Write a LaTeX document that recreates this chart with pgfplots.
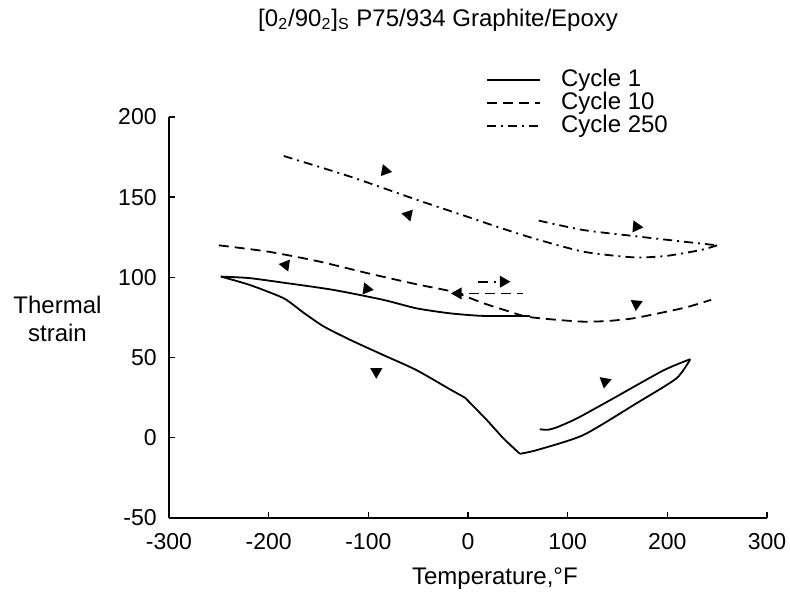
\documentclass[border=0pt,12pt]{standalone}
\usepackage{fontspec}
\setmainfont{Liberation Sans}
\usepackage{pgfplots}
\pgfplotsset{compat=1.18}
\begin{document}
\begin{tikzpicture}
\begin{axis}[
 at={(0,0)}, anchor=south west,
 scale only axis, width=299pt, height=200.5pt,
 xmin=-300, xmax=300, ymin=-50, ymax=200,
 axis lines=left, axis line style={-, line width=0.7pt},
 xtick={-300,-200,...,300}, ytick={-50,0,...,200},
 tick align=inside, major tick length=3pt,
 tick style={line width=0.7pt, black},
 /pgf/number format/assume math mode=true,
 tick label style={font=\fontsize{11.5}{13}\selectfont},
 xticklabel style={yshift=-3.5pt},
 yticklabel style={xshift=-2pt},
 xlabel={Temperature,°F},
 xlabel style={at={(axis description cs:0.545,-0.15)}, anchor=center, font=\fontsize{12}{14}\selectfont},
 ylabel={Thermal\\strain},
 ylabel style={at={(axis description cs:-0.1865,0.496)}, rotate=-90, anchor=center, align=center, font=\fontsize{12}{14}\selectfont},
 title={[0\textsubscript{2}/90\textsubscript{2}]\textsubscript{S} P75/934 Graphite/Epoxy},
 title style={at={(axis description cs:0.45,1.212)}, anchor=center, yshift=0pt, font=\fontsize{12}{14}\selectfont},
 legend style={draw=none, fill=none, at={(axis description cs:0.53,1.125)}, anchor=north west, inner sep=0pt, row sep=-1pt, font=\fontsize{12}{14}\selectfont, nodes={inner sep=1pt}, /tikz/every odd column/.append style={column sep=9pt}},
 legend cell align=left,
 legend image code/.code={\draw[#1] (0pt,0pt) -- (26.5pt,0pt);},
 every axis plot/.append style={line width=0.9pt, black},
]
% Cycle 1 (heating from 72 F)
\addplot[solid, smooth, tension=0.4] coordinates {
(72,5.3) (80,5) (89,6.5) (109,12) (143,23.6) (196,42) (223,49)
};
\addlegendentry{Cycle 1}
% Cycle 10
\addplot[dash pattern=on 5pt off 3pt, smooth, tension=0.4] coordinates {
(-250,120) (-200,116) (-150,110) (-100,102.5) (-50,95.5) (-15,91) (15,84) (40,79) (59,75.5)
(90,73.5) (116,72.4) (140,72.8) (166,74.5) (199,78.6) (220,81.5) (244,86)
};
\addlegendentry{Cycle 10}
% Cycle 250
\addplot[dash pattern=on 4.5pt off 2.5pt on 1pt off 2.5pt, smooth, tension=0.4] coordinates {
(71,135.4) (116,129.5) (166,125.8) (216,122.3) (250,120)
};
\addlegendentry{Cycle 250}
\addplot[dash pattern=on 4.5pt off 2.5pt on 1pt off 2.5pt, smooth, tension=0.4, forget plot] coordinates {
(250,120) (233,117) (199,113.4) (166,112.5)
(116,116) (65.5,124.4) (29,131.6) (-1,137.9) (-51,148.3) (-118,162.8) (-185,175.7)
};
% rest of cycle 1
\addplot[solid, smooth, tension=0.4, forget plot] coordinates {
(223,49) (209,37) (169,21.5) (116,1.8) (70,-7.5) (52,-10)
};
\addplot[solid, smooth, tension=0.3, forget plot] coordinates {
(52,-10) (35,0) (19,11) (-3,25)
};
\addplot[solid, smooth, tension=0.4, forget plot] coordinates {
(-3,25) (-18,30.2) (-52,42.3) (-85,51.6) (-118,61) (-145,69.5) (-165,78) (-185,87) (-219,95.3) (-248,100.5)
};
\addplot[solid, smooth, tension=0.4, forget plot] coordinates {
(-248,100.5) (-220,99.6) (-185,96.7) (-135,92.2) (-85,86) (-51.5,80.7) (-18,77.6) (15,76) (62,76)
};
% cycle 10 extra pieces
\addplot[dash pattern=on 5pt off 3pt, forget plot] coordinates {(-15,90) (55,90)};
\addplot[dash pattern=on 5pt off 3pt, forget plot] coordinates {(10,97.3) (28,97.3)};
% arrowheads
\addplot[only marks, mark=triangle*, mark size=2.6pt, mark options={rotate=-100, fill=black}, forget plot] coordinates {(-83,166.5)};
\addplot[only marks, mark=triangle*, mark size=2.6pt, mark options={rotate=78, fill=black}, forget plot] coordinates {(-60,139)};
\addplot[only marks, mark=triangle*, mark size=2.6pt, mark options={rotate=-95, fill=black}, forget plot] coordinates {(169,131.6)};
\addplot[only marks, mark=triangle*, mark size=2.6pt, mark options={rotate=82, fill=black}, forget plot] coordinates {(-183,107.7)};
\addplot[only marks, mark=triangle*, mark size=2.6pt, mark options={rotate=-98, fill=black}, forget plot] coordinates {(-101.5,92.8)};
\addplot[only marks, mark=triangle*, mark size=2.6pt, mark options={rotate=-90, fill=black}, forget plot] coordinates {(35.5,97.3)};
\addplot[only marks, mark=triangle*, mark size=2.6pt, mark options={rotate=90, fill=black}, forget plot] coordinates {(-10,90)};
\addplot[only marks, mark=triangle*, mark size=2.6pt, mark options={rotate=175, fill=black}, forget plot] coordinates {(169,83.4)};
\addplot[only marks, mark=triangle*, mark size=2.6pt, mark options={rotate=60, fill=black}, forget plot] coordinates {(-92,41.2)};
\addplot[only marks, mark=triangle*, mark size=2.6pt, mark options={rotate=170, fill=black}, forget plot] coordinates {(137.5,35)};
\node[anchor=base west, font=\fontsize{12}{14}\selectfont] at (axis description cs:-0.017,1.01) {x 10\textsuperscript{-6}};
\end{axis}
\pgfresetboundingbox
\useasboundingbox (-84.5pt,-37pt) rectangle (310.5pt,259pt);
\end{tikzpicture}
\end{document}
